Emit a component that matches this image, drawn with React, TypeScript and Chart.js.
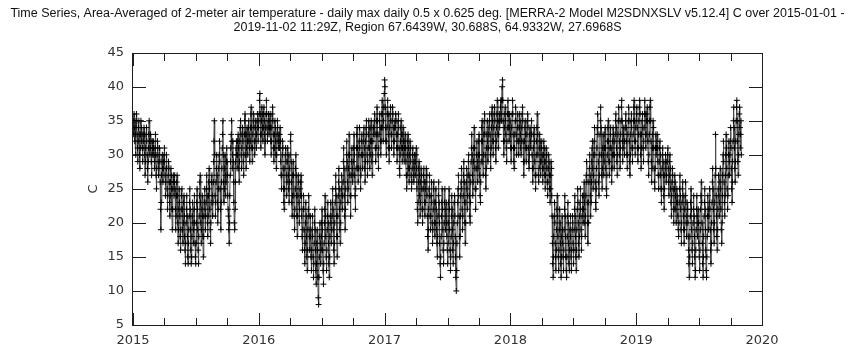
import React, { useEffect, useRef } from "react";
import { Chart, registerables } from "chart.js";

Chart.register(...registerables);

const TITLE_LINES = [
  "Time Series, Area-Averaged of 2-meter air temperature - daily max daily 0.5 x 0.625 deg. [MERRA-2 Model M2SDNXSLV v5.12.4] C over 2015-01-01 -",
  "2019-11-02 11:29Z, Region 67.6439W, 30.688S, 64.9332W, 27.6968S",
];
const Y_LABEL = "C";
const START_DATE = "2015-01-01";
const xTickYears = [2015, 2016, 2017, 2018, 2019, 2020];
const yTickValues = [5, 10, 15, 20, 25, 30, 35, 40, 45];

// Daily max temperature (C), one row per month
const t2015 = [
  34,35,33,36,34,32,35,33,30,34,36,35,33,31,29,32,34,35,33,30,28,31,33,35,34,32,33,31,29,31,33,
  32,34,33,30,27,29,31,33,34,32,30,28,26,29,31,33,35,32,30,31,33,32,29,27,30,32,31,30,
  31,32,30,28,29,31,33,30,27,25,28,30,32,31,29,27,28,30,31,29,26,22,19,23,27,29,30,28,26,28,29,
  30,31,29,27,24,26,28,30,28,25,22,24,27,29,28,26,23,21,24,26,28,27,25,22,19,22,25,27,26,24,
  26,27,25,22,19,21,24,26,27,24,20,17,19,22,25,23,21,18,16,19,22,24,25,22,19,17,20,23,24,21,18,
  16,14,17,20,22,24,21,18,15,14,17,19,21,23,25,22,19,16,14,15,18,21,23,20,17,19,22,24,20,17,
  15,14,17,20,23,25,22,19,16,14,18,21,24,26,27,23,20,17,19,22,24,21,18,15,18,21,23,25,22,19,21,
  23,25,27,24,20,18,21,24,26,28,25,22,19,17,20,23,26,27,24,21,23,26,29,32,35,30,24,21,23,26,28,
  30,27,23,20,22,25,28,30,32,29,25,22,19,23,26,28,31,33,35,30,26,23,25,28,30,27,24,26,29,31,
  29,27,24,22,21,19,17,20,24,27,29,31,33,35,32,28,30,32,29,26,23,20,19,22,26,29,31,32,30,28,30,
  32,33,31,28,26,29,32,34,35,33,30,28,31,33,34,32,29,27,30,33,35,36,33,30,28,31,33,34,32,30,
  32,34,35,33,31,29,32,34,36,37,34,31,29,31,33,35,36,34,32,30,32,34,35,33,31,33,35,36,34,32,34,
];
const t2016 = [
  35,36,38,39,36,33,31,33,35,37,36,34,32,34,36,37,35,33,30,32,34,36,38,36,34,32,33,35,36,34,33,
  34,35,36,34,32,30,32,34,36,37,35,33,31,29,31,33,35,34,32,30,28,30,33,35,34,32,31,33,32,
  31,33,34,32,29,27,25,27,30,32,31,28,25,23,22,25,28,30,31,29,27,24,26,29,31,30,27,25,23,26,28,
  30,32,33,29,26,23,21,24,27,29,27,24,21,19,22,25,28,30,27,24,21,18,21,24,27,26,23,20,22,25,
  24,26,27,24,21,18,16,19,22,24,22,19,16,14,17,20,23,21,18,15,13,16,19,22,24,21,18,16,19,21,18,
  15,13,16,19,21,18,15,12,14,17,20,22,19,16,13,11,14,17,19,16,12,9,8,12,15,18,20,17,14,16,
  18,20,22,19,16,13,11,14,17,20,22,24,21,18,15,13,16,19,21,23,20,17,14,12,15,18,21,23,20,17,19,
  21,23,25,22,19,16,14,17,20,23,25,27,24,21,18,15,18,21,24,26,28,25,22,19,17,20,23,25,27,24,22,
  24,26,29,31,28,24,21,19,22,25,28,30,32,29,26,23,25,28,30,33,30,27,24,21,24,27,29,31,28,26,
  27,29,31,33,30,27,24,22,25,28,31,33,34,31,28,26,28,30,32,34,31,28,25,27,30,32,33,30,28,30,32,
  33,34,31,28,26,29,32,34,35,33,30,27,29,31,33,35,34,31,28,30,32,34,35,32,29,27,30,32,34,33,
  34,35,36,33,31,29,31,33,35,37,35,33,30,28,31,33,35,36,34,32,30,32,34,36,38,36,34,32,35,37,39,
];
const t2017 = [
  41,40,37,34,32,30,32,34,36,38,36,33,31,29,31,34,36,37,35,33,31,33,35,37,36,34,32,30,32,34,35,
  34,36,35,33,31,29,31,33,35,36,34,31,28,27,30,32,34,35,33,31,29,31,33,34,32,30,29,31,
  32,33,31,29,27,25,27,30,32,33,31,28,26,28,30,32,31,29,27,25,26,28,30,31,29,27,26,28,30,29,27,
  29,30,31,28,25,22,20,23,26,28,29,27,24,21,23,26,28,27,25,22,20,22,25,27,28,26,23,21,23,25,
  26,28,27,24,21,18,16,19,22,25,27,24,21,19,21,24,26,23,20,17,19,22,25,26,23,20,18,20,23,25,22,
  19,17,15,18,21,24,26,23,20,17,14,12,15,18,21,23,25,22,19,16,14,17,20,23,25,22,19,21,23,20,
  18,16,14,17,20,23,25,22,19,16,13,15,18,21,24,22,19,16,14,17,20,23,24,21,18,15,12,10,13,17,20,
  23,25,27,24,21,18,15,18,21,24,26,28,25,22,19,21,24,27,29,26,23,20,17,20,23,26,28,25,22,24,27,
  29,30,27,24,21,20,23,26,29,31,33,30,27,24,26,29,31,34,31,28,25,22,25,28,30,32,29,26,28,30,
  32,33,30,27,24,23,26,29,32,34,35,32,29,27,30,33,35,36,33,30,27,25,28,31,33,35,32,29,31,33,34,
  35,36,33,30,28,31,34,36,37,35,32,30,32,34,36,37,35,33,31,29,32,34,36,38,35,33,31,33,35,36,
  34,35,37,38,36,35,38,40,41,38,35,32,30,32,34,36,37,35,33,31,29,32,34,36,38,36,34,32,34,36,35,
];
const t2018 = [
  33,31,29,31,34,36,38,36,33,31,29,28,31,33,35,37,35,33,30,32,34,36,34,32,30,32,34,36,35,33,31,
  30,32,34,36,37,35,32,29,27,29,32,34,35,33,31,29,31,33,35,36,34,31,29,28,30,33,34,32,
  31,33,35,33,30,28,26,28,31,33,34,32,29,27,25,27,30,32,34,36,33,30,27,26,28,31,33,32,29,27,29,
  31,32,30,28,26,28,30,32,31,29,27,25,27,29,31,30,28,26,24,26,28,30,29,27,25,23,25,27,29,28,
  24,21,17,14,12,15,18,21,23,20,17,15,13,16,19,22,24,21,18,15,13,16,19,22,20,17,14,12,15,18,21,
  19,17,15,13,16,19,22,24,21,18,15,13,12,15,18,21,23,20,17,14,13,16,19,21,18,15,13,16,19,21,
  20,17,14,16,19,22,24,21,18,15,13,16,19,22,25,23,20,17,15,18,21,23,25,22,19,16,18,21,24,22,20,
  22,24,26,23,20,18,21,24,27,29,26,23,20,17,20,23,26,28,30,27,24,21,23,26,29,31,32,28,25,27,30,
  32,34,30,26,23,22,25,28,31,34,36,33,29,26,24,27,30,33,35,37,34,30,27,25,28,31,33,30,27,29,
  31,33,34,31,28,25,24,27,30,32,34,35,32,29,27,29,31,33,34,31,28,26,28,30,32,34,33,30,28,30,32,
  33,35,36,34,31,29,27,30,33,35,37,35,32,30,28,31,33,35,37,38,35,32,29,31,33,34,32,30,32,34,
  35,36,34,32,30,28,30,33,35,37,35,32,29,27,30,33,35,36,34,31,29,31,33,35,37,38,35,32,30,32,34,
];
const t2019 = [
  35,36,37,34,31,29,31,33,35,37,38,36,33,30,28,31,33,35,36,34,31,29,32,34,36,38,36,33,31,33,35,
  36,37,35,32,29,27,30,33,35,37,38,35,32,29,26,28,31,33,35,34,31,28,26,25,28,31,33,30,
  31,32,33,31,29,27,25,27,29,31,32,30,27,25,23,25,28,30,31,29,27,24,22,25,27,29,30,28,26,27,29,
  29,30,31,28,26,24,27,29,30,28,25,23,21,24,26,28,27,25,22,20,22,25,27,26,24,22,20,23,25,24,
  23,21,19,18,20,23,25,27,24,22,19,17,20,23,25,26,24,21,19,17,19,22,24,26,23,20,18,21,23,22,20,
  18,16,14,12,15,18,21,23,25,22,19,16,14,17,20,22,24,21,18,15,12,13,16,19,22,24,21,18,20,22,
  20,17,15,13,16,19,22,24,26,23,20,17,14,12,15,18,21,23,25,22,19,16,13,12,15,18,21,24,22,19,21,
  23,25,22,19,16,14,17,20,23,26,28,25,22,19,17,20,23,27,33,28,24,21,18,16,19,22,25,27,24,21,23,
  26,28,25,22,19,17,20,24,27,30,32,29,26,23,21,24,27,30,33,31,28,25,22,24,27,30,32,29,27,30,
  32,34,31,28,25,23,26,29,32,35,37,34,31,28,26,29,32,35,37,38,35,32,29,27,30,33,36,37,34,31,33,
  35,30,
];

function decimalYear(ms: number): number {
  const d = new Date(ms);
  const y = d.getUTCFullYear();
  const s = Date.UTC(y, 0, 1);
  const e = Date.UTC(y + 1, 0, 1);
  return y + (ms - s) / (e - s);
}

function buildPoints() {
  const all = [...t2015, ...t2016, ...t2017, ...t2018, ...t2019];
  const start = Date.parse(START_DATE + "T00:00:00Z");
  return all.map((v, i) => ({ x: decimalYear(start + i * 86400000), y: v }));
}

const framePlugin = {
  id: "frameTicks",
  afterDatasetsDraw(chart: any) {
    const { ctx, chartArea, scales } = chart;
    const xs = scales.x;
    const ys = scales.y;
    const L = Math.round(chartArea.left) - 1;
    const R = Math.round(chartArea.right);
    const T = Math.round(chartArea.top);
    const B = Math.round(chartArea.bottom);
    ctx.save();
    ctx.fillStyle = "#1e1e1e";
    // frame
    ctx.fillRect(L, T, R - L + 1, 1);
    ctx.fillRect(L, B, R - L + 1, 1);
    ctx.fillRect(L, T, 1, B - T + 1);
    ctx.fillRect(R, T, 1, B - T + 1);
    // x ticks: years (long) and quarters (short), inward from top and bottom
    const first = xTickYears[0];
    const last = xTickYears[xTickYears.length - 1];
    const steps = Math.round((last - first) * 4);
    for (let k = 0; k <= steps; k++) {
      const q = first + k / 4;
      const px = Math.round(xs.getPixelForValue(q));
      const len = k % 4 === 0 ? 12 : 7;
      ctx.fillRect(px, B - len, 1, len);
      ctx.fillRect(px, T + 1, 1, len);
    }
    // y ticks, inward from left and right
    for (const v of yTickValues) {
      const py = Math.round(ys.getPixelForValue(v));
      ctx.fillRect(L + 1, py, 13, 1);
      ctx.fillRect(R - 13, py, 13, 1);
    }
    ctx.restore();
  },
};

export default function App() {
  const canvasRef = useRef<HTMLCanvasElement | null>(null);

  useEffect(() => {
    const canvas = canvasRef.current;
    if (!canvas) return;
    const tickFont = { family: "DejaVu Sans", size: 13 };
    const chart = new Chart(canvas, {
      type: "line",
      data: {
        datasets: [
          {
            data: buildPoints(),
            borderColor: "#444",
            borderWidth: 1,
            pointStyle: "cross",
            pointRadius: 3,
            pointBorderColor: "#000",
            pointBackgroundColor: "#000",
            pointBorderWidth: 1,
            tension: 0,
            fill: false,
          },
        ],
      },
      options: {
        animation: false,
        responsive: false,
        devicePixelRatio: 1,
        layout: { padding: 0 },
        plugins: {
          legend: { display: false },
          tooltip: { enabled: false },
          title: {
            display: true,
            text: TITLE_LINES,
            color: "#111",
            font: { family: "Liberation Sans", size: 12.5, weight: "normal", lineHeight: 1.08 },
            padding: { top: 7.25, bottom: 18.45 },
          },
        },
        scales: {
          x: {
            type: "linear",
            min: xTickYears[0],
            max: xTickYears[xTickYears.length - 1],
            afterBuildTicks: (s: any) => {
              s.ticks = xTickYears.map((v) => ({ value: v }));
            },
            ticks: {
              callback: (v: any) => String(v),
              font: tickFont,
              color: "#333",
              padding: 8,
              maxRotation: 0,
              autoSkip: false,
            },
            grid: { display: false, drawTicks: false },
            border: { display: false },
            afterFit: (s: any) => {
              s.height = 23;
            },
          },
          y: {
            position: "left",
            min: yTickValues[0],
            max: yTickValues[yTickValues.length - 1],
            afterBuildTicks: (s: any) => {
              s.ticks = yTickValues.map((v) => ({ value: v }));
            },
            ticks: { font: tickFont, color: "#333", padding: 9 },
            grid: { display: false, drawTicks: false },
            border: { display: false },
            title: {
              display: true,
              text: Y_LABEL,
              color: "#333",
              font: { family: "DejaVu Sans", size: 13 },
              padding: { top: 86, bottom: 0 },
            },
            afterFit: (s: any) => {
              s.width = 133;
            },
          },
          y2: {
            position: "right",
            min: yTickValues[0],
            max: yTickValues[yTickValues.length - 1],
            ticks: { display: false },
            grid: { display: false, drawTicks: false },
            border: { display: false },
            afterFit: (s: any) => {
              s.width = 93;
            },
          },
        },
      },
      plugins: [framePlugin],
    } as any);
    return () => chart.destroy();
  }, []);

  return (
    <div style={{ position: "absolute", left: 0, top: 0, width: 855, height: 348, background: "#fff" }}>
      <canvas ref={canvasRef} width={855} height={348} style={{ display: "block" }} />
    </div>
  );
}
